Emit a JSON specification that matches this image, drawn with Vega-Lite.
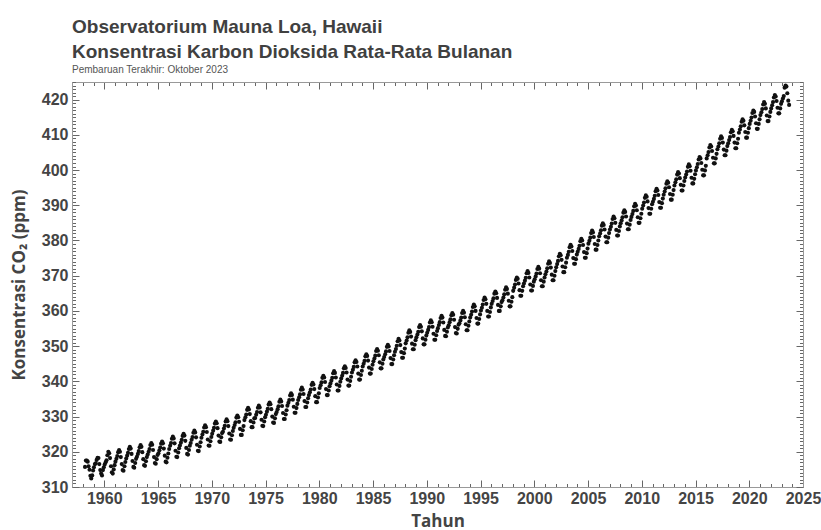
{
"$schema":"https://vega.github.io/schema/vega-lite/v6.json",
"width":731,"height":405,"autosize":"none",
"padding":{"left":72,"top":82,"right":18,"bottom":43},
"background":"white",
"title":{"text":["Observatorium Mauna Loa, Hawaii","Konsentrasi Karbon Dioksida Rata-Rata Bulanan"],"subtitle":"Pembaruan Terakhir: Oktober 2023","anchor":"start","frame":"group","font":"Liberation Sans","fontSize":19,"fontWeight":"bold","color":"#404040","lineHeight":25,"subtitleFont":"Liberation Sans","subtitleFontSize":10,"subtitleColor":"#555","subtitlePadding":3,"offset":7},
"config":{"view":{"stroke":"#999","strokeWidth":1},"axis":{"grid":false,"domainColor":"#999","tickColor":"#666","labelFont":"Liberation Sans","labelFontWeight":"bold","labelFontSize":16,"labelColor":"#444","titleFont":"Open Sans","titleFontWeight":"bold","titleFontSize":17,"titleColor":"#444","labelFlush":false,"labelOverlap":false}},
"data":{"values":[
{"t":1958.21,"c":315.7},{"t":1958.29,"c":317.5},{"t":1958.38,"c":317.5},{"t":1958.46,"c":317.2},{"t":1958.54,"c":315.9},{"t":1958.63,"c":314.9},{"t":1958.71,"c":313.2},{"t":1958.79,"c":312.4},{"t":1958.88,"c":313.3},{"t":1958.96,"c":314.7},
{"t":1959.04,"c":315.6},{"t":1959.13,"c":316.5},{"t":1959.21,"c":316.7},{"t":1959.29,"c":317.7},{"t":1959.38,"c":318.3},{"t":1959.46,"c":318.2},{"t":1959.54,"c":316.5},{"t":1959.63,"c":314.8},{"t":1959.71,"c":313.8},{"t":1959.79,"c":313.3},{"t":1959.88,"c":314.8},{"t":1959.96,"c":315.6},
{"t":1960.04,"c":316.4},{"t":1960.13,"c":317.0},{"t":1960.21,"c":317.6},{"t":1960.29,"c":319.0},{"t":1960.38,"c":320.0},{"t":1960.46,"c":319.6},{"t":1960.54,"c":318.2},{"t":1960.63,"c":315.9},{"t":1960.71,"c":314.2},{"t":1960.79,"c":313.8},{"t":1960.88,"c":315.0},{"t":1960.96,"c":316.2},
{"t":1961.04,"c":317.2},{"t":1961.13,"c":318.0},{"t":1961.21,"c":318.8},{"t":1961.29,"c":319.9},{"t":1961.38,"c":320.5},{"t":1961.46,"c":320.0},{"t":1961.54,"c":318.5},{"t":1961.63,"c":316.5},{"t":1961.71,"c":314.8},{"t":1961.79,"c":314.6},{"t":1961.88,"c":315.9},{"t":1961.96,"c":317.1},
{"t":1962.04,"c":318.1},{"t":1962.13,"c":318.9},{"t":1962.21,"c":319.7},{"t":1962.29,"c":320.8},{"t":1962.38,"c":321.4},{"t":1962.46,"c":320.9},{"t":1962.54,"c":319.4},{"t":1962.63,"c":317.4},{"t":1962.71,"c":315.7},{"t":1962.79,"c":315.5},{"t":1962.88,"c":316.8},{"t":1962.96,"c":318.0},
{"t":1963.04,"c":318.6},{"t":1963.13,"c":319.4},{"t":1963.21,"c":320.2},{"t":1963.29,"c":321.3},{"t":1963.38,"c":321.9},{"t":1963.46,"c":321.4},{"t":1963.54,"c":319.9},{"t":1963.63,"c":317.9},{"t":1963.71,"c":316.2},{"t":1963.79,"c":316.0},{"t":1963.88,"c":317.3},{"t":1963.96,"c":318.5},
{"t":1964.04,"c":319.2},{"t":1964.13,"c":320.0},{"t":1964.21,"c":320.8},{"t":1964.29,"c":321.9},{"t":1964.38,"c":322.5},{"t":1964.46,"c":322.0},{"t":1964.54,"c":320.5},{"t":1964.63,"c":318.5},{"t":1964.71,"c":316.8},{"t":1964.79,"c":316.6},{"t":1964.88,"c":317.9},{"t":1964.96,"c":319.1},
{"t":1965.04,"c":319.6},{"t":1965.13,"c":320.4},{"t":1965.21,"c":321.2},{"t":1965.29,"c":322.3},{"t":1965.38,"c":322.9},{"t":1965.46,"c":322.4},{"t":1965.54,"c":320.9},{"t":1965.63,"c":318.9},{"t":1965.71,"c":317.2},{"t":1965.79,"c":317.0},{"t":1965.88,"c":318.3},{"t":1965.96,"c":319.5},
{"t":1966.04,"c":320.8},{"t":1966.13,"c":321.7},{"t":1966.21,"c":322.5},{"t":1966.29,"c":323.7},{"t":1966.38,"c":324.3},{"t":1966.46,"c":323.8},{"t":1966.54,"c":322.4},{"t":1966.63,"c":320.3},{"t":1966.71,"c":318.6},{"t":1966.79,"c":318.5},{"t":1966.88,"c":319.8},{"t":1966.96,"c":321.0},
{"t":1967.04,"c":321.8},{"t":1967.13,"c":322.6},{"t":1967.21,"c":323.4},{"t":1967.29,"c":324.5},{"t":1967.38,"c":325.1},{"t":1967.46,"c":324.6},{"t":1967.54,"c":323.1},{"t":1967.63,"c":321.1},{"t":1967.71,"c":319.4},{"t":1967.79,"c":319.2},{"t":1967.88,"c":320.5},{"t":1967.96,"c":321.7},
{"t":1968.04,"c":322.5},{"t":1968.13,"c":323.4},{"t":1968.21,"c":324.2},{"t":1968.29,"c":325.4},{"t":1968.38,"c":326.0},{"t":1968.46,"c":325.5},{"t":1968.54,"c":324.1},{"t":1968.63,"c":322.0},{"t":1968.71,"c":320.3},{"t":1968.79,"c":320.2},{"t":1968.88,"c":321.5},{"t":1968.96,"c":322.7},
{"t":1969.04,"c":324.0},{"t":1969.13,"c":324.9},{"t":1969.21,"c":325.7},{"t":1969.29,"c":326.9},{"t":1969.38,"c":327.5},{"t":1969.46,"c":327.0},{"t":1969.54,"c":325.6},{"t":1969.63,"c":323.5},{"t":1969.71,"c":321.8},{"t":1969.79,"c":321.7},{"t":1969.88,"c":323.0},{"t":1969.96,"c":324.2},
{"t":1970.04,"c":325.1},{"t":1970.13,"c":326.0},{"t":1970.21,"c":326.8},{"t":1970.29,"c":328.0},{"t":1970.38,"c":328.6},{"t":1970.46,"c":328.1},{"t":1970.54,"c":326.7},{"t":1970.63,"c":324.6},{"t":1970.71,"c":322.9},{"t":1970.79,"c":322.8},{"t":1970.88,"c":324.1},{"t":1970.96,"c":325.3},
{"t":1971.04,"c":325.7},{"t":1971.13,"c":326.6},{"t":1971.21,"c":327.4},{"t":1971.29,"c":328.6},{"t":1971.38,"c":329.2},{"t":1971.46,"c":328.7},{"t":1971.54,"c":327.3},{"t":1971.63,"c":325.2},{"t":1971.71,"c":323.5},{"t":1971.79,"c":323.4},{"t":1971.88,"c":324.7},{"t":1971.96,"c":325.9},
{"t":1972.04,"c":326.8},{"t":1972.13,"c":327.6},{"t":1972.21,"c":328.4},{"t":1972.29,"c":329.7},{"t":1972.38,"c":330.3},{"t":1972.46,"c":329.8},{"t":1972.54,"c":328.5},{"t":1972.63,"c":326.5},{"t":1972.71,"c":324.8},{"t":1972.79,"c":324.8},{"t":1972.88,"c":326.1},{"t":1972.96,"c":327.3},
{"t":1973.04,"c":329.0},{"t":1973.13,"c":329.8},{"t":1973.21,"c":330.6},{"t":1973.29,"c":331.9},{"t":1973.38,"c":332.5},{"t":1973.46,"c":332.0},{"t":1973.54,"c":330.7},{"t":1973.63,"c":328.7},{"t":1973.71,"c":327.0},{"t":1973.79,"c":327.0},{"t":1973.88,"c":328.3},{"t":1973.96,"c":329.5},
{"t":1974.04,"c":329.6},{"t":1974.13,"c":330.5},{"t":1974.21,"c":331.3},{"t":1974.29,"c":332.5},{"t":1974.38,"c":333.1},{"t":1974.46,"c":332.6},{"t":1974.54,"c":331.2},{"t":1974.63,"c":329.1},{"t":1974.71,"c":327.4},{"t":1974.79,"c":327.3},{"t":1974.88,"c":328.6},{"t":1974.96,"c":329.8},
{"t":1975.04,"c":330.5},{"t":1975.13,"c":331.4},{"t":1975.21,"c":332.2},{"t":1975.29,"c":333.4},{"t":1975.38,"c":334.0},{"t":1975.46,"c":333.5},{"t":1975.54,"c":332.1},{"t":1975.63,"c":330.0},{"t":1975.71,"c":328.3},{"t":1975.79,"c":328.2},{"t":1975.88,"c":329.5},{"t":1975.96,"c":330.7},
{"t":1976.04,"c":331.3},{"t":1976.13,"c":332.1},{"t":1976.21,"c":332.9},{"t":1976.29,"c":334.2},{"t":1976.38,"c":334.8},{"t":1976.46,"c":334.3},{"t":1976.54,"c":333.0},{"t":1976.63,"c":331.0},{"t":1976.71,"c":329.3},{"t":1976.79,"c":329.3},{"t":1976.88,"c":330.6},{"t":1976.96,"c":331.8},
{"t":1977.04,"c":333.1},{"t":1977.13,"c":333.9},{"t":1977.21,"c":334.7},{"t":1977.29,"c":336.0},{"t":1977.38,"c":336.6},{"t":1977.46,"c":336.1},{"t":1977.54,"c":334.8},{"t":1977.63,"c":332.8},{"t":1977.71,"c":331.1},{"t":1977.79,"c":331.1},{"t":1977.88,"c":332.4},{"t":1977.96,"c":333.6},
{"t":1978.04,"c":334.7},{"t":1978.13,"c":335.5},{"t":1978.21,"c":336.3},{"t":1978.29,"c":337.6},{"t":1978.38,"c":338.2},{"t":1978.46,"c":337.7},{"t":1978.54,"c":336.4},{"t":1978.63,"c":334.4},{"t":1978.71,"c":332.7},{"t":1978.79,"c":332.7},{"t":1978.88,"c":334.0},{"t":1978.96,"c":335.2},
{"t":1979.04,"c":336.1},{"t":1979.13,"c":336.9},{"t":1979.21,"c":337.7},{"t":1979.29,"c":339.0},{"t":1979.38,"c":339.6},{"t":1979.46,"c":339.1},{"t":1979.54,"c":337.8},{"t":1979.63,"c":335.8},{"t":1979.71,"c":334.1},{"t":1979.79,"c":334.1},{"t":1979.88,"c":335.4},{"t":1979.96,"c":336.6},
{"t":1980.04,"c":338.1},{"t":1980.13,"c":338.9},{"t":1980.21,"c":339.7},{"t":1980.29,"c":341.0},{"t":1980.38,"c":341.6},{"t":1980.46,"c":341.1},{"t":1980.54,"c":339.8},{"t":1980.63,"c":337.8},{"t":1980.71,"c":336.1},{"t":1980.79,"c":336.1},{"t":1980.88,"c":337.4},{"t":1980.96,"c":338.6},
{"t":1981.04,"c":339.4},{"t":1981.13,"c":340.2},{"t":1981.21,"c":341.0},{"t":1981.29,"c":342.3},{"t":1981.38,"c":342.9},{"t":1981.46,"c":342.4},{"t":1981.54,"c":341.1},{"t":1981.63,"c":339.1},{"t":1981.71,"c":337.4},{"t":1981.79,"c":337.4},{"t":1981.88,"c":338.7},{"t":1981.96,"c":339.9},
{"t":1982.04,"c":340.8},{"t":1982.13,"c":341.6},{"t":1982.21,"c":342.4},{"t":1982.29,"c":343.7},{"t":1982.38,"c":344.3},{"t":1982.46,"c":343.8},{"t":1982.54,"c":342.5},{"t":1982.63,"c":340.5},{"t":1982.71,"c":338.8},{"t":1982.79,"c":338.8},{"t":1982.88,"c":340.1},{"t":1982.96,"c":341.3},
{"t":1983.04,"c":342.5},{"t":1983.13,"c":343.3},{"t":1983.21,"c":344.1},{"t":1983.29,"c":345.4},{"t":1983.38,"c":346.0},{"t":1983.46,"c":345.5},{"t":1983.54,"c":344.2},{"t":1983.63,"c":342.2},{"t":1983.71,"c":340.5},{"t":1983.79,"c":340.5},{"t":1983.88,"c":341.8},{"t":1983.96,"c":343.0},
{"t":1984.04,"c":344.2},{"t":1984.13,"c":345.0},{"t":1984.21,"c":345.8},{"t":1984.29,"c":347.1},{"t":1984.38,"c":347.7},{"t":1984.46,"c":347.2},{"t":1984.54,"c":345.9},{"t":1984.63,"c":343.9},{"t":1984.71,"c":342.2},{"t":1984.79,"c":342.2},{"t":1984.88,"c":343.5},{"t":1984.96,"c":344.7},
{"t":1985.04,"c":345.7},{"t":1985.13,"c":346.5},{"t":1985.21,"c":347.3},{"t":1985.29,"c":348.6},{"t":1985.38,"c":349.2},{"t":1985.46,"c":348.7},{"t":1985.54,"c":347.4},{"t":1985.63,"c":345.4},{"t":1985.71,"c":343.7},{"t":1985.79,"c":343.7},{"t":1985.88,"c":345.0},{"t":1985.96,"c":346.2},
{"t":1986.04,"c":346.9},{"t":1986.13,"c":347.7},{"t":1986.21,"c":348.5},{"t":1986.29,"c":349.8},{"t":1986.38,"c":350.4},{"t":1986.46,"c":349.9},{"t":1986.54,"c":348.6},{"t":1986.63,"c":346.6},{"t":1986.71,"c":344.9},{"t":1986.79,"c":344.9},{"t":1986.88,"c":346.2},{"t":1986.96,"c":347.4},
{"t":1987.04,"c":348.4},{"t":1987.13,"c":349.2},{"t":1987.21,"c":350.1},{"t":1987.29,"c":351.4},{"t":1987.38,"c":352.1},{"t":1987.46,"c":351.6},{"t":1987.54,"c":350.3},{"t":1987.63,"c":348.3},{"t":1987.71,"c":346.7},{"t":1987.79,"c":346.7},{"t":1987.88,"c":348.0},{"t":1987.96,"c":349.3},
{"t":1988.04,"c":350.8},{"t":1988.13,"c":351.6},{"t":1988.21,"c":352.5},{"t":1988.29,"c":353.8},{"t":1988.38,"c":354.5},{"t":1988.46,"c":354.0},{"t":1988.54,"c":352.7},{"t":1988.63,"c":350.7},{"t":1988.71,"c":349.1},{"t":1988.79,"c":349.1},{"t":1988.88,"c":350.4},{"t":1988.96,"c":351.7},
{"t":1989.04,"c":352.5},{"t":1989.13,"c":353.3},{"t":1989.21,"c":354.1},{"t":1989.29,"c":355.4},{"t":1989.38,"c":356.0},{"t":1989.46,"c":355.5},{"t":1989.54,"c":354.2},{"t":1989.63,"c":352.2},{"t":1989.71,"c":350.5},{"t":1989.79,"c":350.5},{"t":1989.88,"c":351.8},{"t":1989.96,"c":353.0},
{"t":1990.04,"c":353.8},{"t":1990.13,"c":354.6},{"t":1990.21,"c":355.4},{"t":1990.29,"c":356.7},{"t":1990.38,"c":357.3},{"t":1990.46,"c":356.8},{"t":1990.54,"c":355.5},{"t":1990.63,"c":353.5},{"t":1990.71,"c":351.8},{"t":1990.79,"c":351.8},{"t":1990.88,"c":353.1},{"t":1990.96,"c":354.3},
{"t":1991.04,"c":355.1},{"t":1991.13,"c":356.0},{"t":1991.21,"c":356.8},{"t":1991.29,"c":358.0},{"t":1991.38,"c":358.6},{"t":1991.46,"c":358.1},{"t":1991.54,"c":356.7},{"t":1991.63,"c":354.6},{"t":1991.71,"c":352.9},{"t":1991.79,"c":352.8},{"t":1991.88,"c":354.1},{"t":1991.96,"c":355.3},
{"t":1992.04,"c":355.9},{"t":1992.13,"c":356.8},{"t":1992.21,"c":357.6},{"t":1992.29,"c":358.8},{"t":1992.38,"c":359.4},{"t":1992.46,"c":358.9},{"t":1992.54,"c":357.5},{"t":1992.63,"c":355.4},{"t":1992.71,"c":353.7},{"t":1992.79,"c":353.6},{"t":1992.88,"c":354.9},{"t":1992.96,"c":356.1},
{"t":1993.04,"c":356.5},{"t":1993.13,"c":357.3},{"t":1993.21,"c":358.1},{"t":1993.29,"c":359.4},{"t":1993.38,"c":360.0},{"t":1993.46,"c":359.5},{"t":1993.54,"c":358.2},{"t":1993.63,"c":356.2},{"t":1993.71,"c":354.5},{"t":1993.79,"c":354.5},{"t":1993.88,"c":355.8},{"t":1993.96,"c":357.0},
{"t":1994.04,"c":358.1},{"t":1994.13,"c":358.9},{"t":1994.21,"c":359.8},{"t":1994.29,"c":361.1},{"t":1994.38,"c":361.8},{"t":1994.46,"c":361.3},{"t":1994.54,"c":360.0},{"t":1994.63,"c":358.0},{"t":1994.71,"c":356.4},{"t":1994.79,"c":356.4},{"t":1994.88,"c":357.7},{"t":1994.96,"c":359.0},
{"t":1995.04,"c":360.1},{"t":1995.13,"c":360.9},{"t":1995.21,"c":361.8},{"t":1995.29,"c":363.1},{"t":1995.38,"c":363.8},{"t":1995.46,"c":363.3},{"t":1995.54,"c":362.0},{"t":1995.63,"c":360.0},{"t":1995.71,"c":358.4},{"t":1995.79,"c":358.4},{"t":1995.88,"c":359.7},{"t":1995.96,"c":361.0},
{"t":1996.04,"c":362.0},{"t":1996.13,"c":362.8},{"t":1996.21,"c":363.6},{"t":1996.29,"c":364.9},{"t":1996.38,"c":365.5},{"t":1996.46,"c":365.0},{"t":1996.54,"c":363.7},{"t":1996.63,"c":361.7},{"t":1996.71,"c":360.0},{"t":1996.79,"c":360.0},{"t":1996.88,"c":361.3},{"t":1996.96,"c":362.5},
{"t":1997.04,"c":363.0},{"t":1997.13,"c":363.8},{"t":1997.21,"c":364.7},{"t":1997.29,"c":366.0},{"t":1997.38,"c":366.7},{"t":1997.46,"c":366.2},{"t":1997.54,"c":364.9},{"t":1997.63,"c":362.9},{"t":1997.71,"c":361.3},{"t":1997.79,"c":361.3},{"t":1997.88,"c":362.6},{"t":1997.96,"c":363.9},
{"t":1998.04,"c":365.7},{"t":1998.13,"c":366.6},{"t":1998.21,"c":367.5},{"t":1998.29,"c":368.8},{"t":1998.38,"c":369.5},{"t":1998.46,"c":369.1},{"t":1998.54,"c":367.8},{"t":1998.63,"c":365.9},{"t":1998.71,"c":364.3},{"t":1998.79,"c":364.3},{"t":1998.88,"c":365.7},{"t":1998.96,"c":367.0},
{"t":1999.04,"c":367.8},{"t":1999.13,"c":368.6},{"t":1999.21,"c":369.4},{"t":1999.29,"c":370.7},{"t":1999.38,"c":371.3},{"t":1999.46,"c":370.8},{"t":1999.54,"c":369.5},{"t":1999.63,"c":367.5},{"t":1999.71,"c":365.8},{"t":1999.79,"c":365.8},{"t":1999.88,"c":367.1},{"t":1999.96,"c":368.3},
{"t":2000.04,"c":369.0},{"t":2000.13,"c":369.8},{"t":2000.21,"c":370.6},{"t":2000.29,"c":371.9},{"t":2000.38,"c":372.5},{"t":2000.46,"c":372.0},{"t":2000.54,"c":370.7},{"t":2000.63,"c":368.7},{"t":2000.71,"c":367.0},{"t":2000.79,"c":367.0},{"t":2000.88,"c":368.3},{"t":2000.96,"c":369.5},
{"t":2001.04,"c":370.4},{"t":2001.13,"c":371.2},{"t":2001.21,"c":372.1},{"t":2001.29,"c":373.4},{"t":2001.38,"c":374.1},{"t":2001.46,"c":373.6},{"t":2001.54,"c":372.3},{"t":2001.63,"c":370.3},{"t":2001.71,"c":368.7},{"t":2001.79,"c":368.7},{"t":2001.88,"c":370.0},{"t":2001.96,"c":371.3},
{"t":2002.04,"c":372.4},{"t":2002.13,"c":373.3},{"t":2002.21,"c":374.2},{"t":2002.29,"c":375.5},{"t":2002.38,"c":376.2},{"t":2002.46,"c":375.8},{"t":2002.54,"c":374.5},{"t":2002.63,"c":372.6},{"t":2002.71,"c":371.0},{"t":2002.79,"c":371.0},{"t":2002.88,"c":372.4},{"t":2002.96,"c":373.7},
{"t":2003.04,"c":375.1},{"t":2003.13,"c":375.9},{"t":2003.21,"c":376.8},{"t":2003.29,"c":378.1},{"t":2003.38,"c":378.8},{"t":2003.46,"c":378.3},{"t":2003.54,"c":377.0},{"t":2003.63,"c":375.0},{"t":2003.71,"c":373.4},{"t":2003.79,"c":373.4},{"t":2003.88,"c":374.7},{"t":2003.96,"c":376.0},
{"t":2004.04,"c":376.8},{"t":2004.13,"c":377.6},{"t":2004.21,"c":378.5},{"t":2004.29,"c":379.8},{"t":2004.38,"c":380.5},{"t":2004.46,"c":380.0},{"t":2004.54,"c":378.7},{"t":2004.63,"c":376.7},{"t":2004.71,"c":375.1},{"t":2004.79,"c":375.1},{"t":2004.88,"c":376.4},{"t":2004.96,"c":377.7},
{"t":2005.04,"c":379.1},{"t":2005.13,"c":379.9},{"t":2005.21,"c":380.8},{"t":2005.29,"c":382.1},{"t":2005.38,"c":382.8},{"t":2005.46,"c":382.3},{"t":2005.54,"c":381.0},{"t":2005.63,"c":379.0},{"t":2005.71,"c":377.4},{"t":2005.79,"c":377.4},{"t":2005.88,"c":378.7},{"t":2005.96,"c":380.0},
{"t":2006.04,"c":381.2},{"t":2006.13,"c":382.0},{"t":2006.21,"c":382.9},{"t":2006.29,"c":384.2},{"t":2006.38,"c":384.9},{"t":2006.46,"c":384.4},{"t":2006.54,"c":383.1},{"t":2006.63,"c":381.1},{"t":2006.71,"c":379.5},{"t":2006.79,"c":379.5},{"t":2006.88,"c":380.8},{"t":2006.96,"c":382.1},
{"t":2007.04,"c":383.1},{"t":2007.13,"c":383.9},{"t":2007.21,"c":384.8},{"t":2007.29,"c":386.1},{"t":2007.38,"c":386.8},{"t":2007.46,"c":386.3},{"t":2007.54,"c":385.0},{"t":2007.63,"c":383.0},{"t":2007.71,"c":381.4},{"t":2007.79,"c":381.4},{"t":2007.88,"c":382.7},{"t":2007.96,"c":384.0},
{"t":2008.04,"c":384.9},{"t":2008.13,"c":385.7},{"t":2008.21,"c":386.6},{"t":2008.29,"c":387.9},{"t":2008.38,"c":388.6},{"t":2008.46,"c":388.1},{"t":2008.54,"c":386.8},{"t":2008.63,"c":384.8},{"t":2008.71,"c":383.2},{"t":2008.79,"c":383.2},{"t":2008.88,"c":384.5},{"t":2008.96,"c":385.8},
{"t":2009.04,"c":386.7},{"t":2009.13,"c":387.5},{"t":2009.21,"c":388.4},{"t":2009.29,"c":389.7},{"t":2009.38,"c":390.4},{"t":2009.46,"c":389.9},{"t":2009.54,"c":388.6},{"t":2009.63,"c":386.6},{"t":2009.71,"c":385.0},{"t":2009.79,"c":385.0},{"t":2009.88,"c":386.3},{"t":2009.96,"c":387.6},
{"t":2010.04,"c":389.0},{"t":2010.13,"c":389.9},{"t":2010.21,"c":390.8},{"t":2010.29,"c":392.1},{"t":2010.38,"c":392.8},{"t":2010.46,"c":392.4},{"t":2010.54,"c":391.1},{"t":2010.63,"c":389.2},{"t":2010.71,"c":387.6},{"t":2010.79,"c":387.6},{"t":2010.88,"c":389.0},{"t":2010.96,"c":390.3},
{"t":2011.04,"c":391.0},{"t":2011.13,"c":391.8},{"t":2011.21,"c":392.7},{"t":2011.29,"c":394.0},{"t":2011.38,"c":394.7},{"t":2011.46,"c":394.2},{"t":2011.54,"c":392.9},{"t":2011.63,"c":390.9},{"t":2011.71,"c":389.3},{"t":2011.79,"c":389.3},{"t":2011.88,"c":390.6},{"t":2011.96,"c":391.9},
{"t":2012.04,"c":393.0},{"t":2012.13,"c":393.9},{"t":2012.21,"c":394.8},{"t":2012.29,"c":396.1},{"t":2012.38,"c":396.8},{"t":2012.46,"c":396.4},{"t":2012.54,"c":395.1},{"t":2012.63,"c":393.2},{"t":2012.71,"c":391.6},{"t":2012.79,"c":391.6},{"t":2012.88,"c":393.0},{"t":2012.96,"c":394.3},
{"t":2013.04,"c":395.6},{"t":2013.13,"c":396.5},{"t":2013.21,"c":397.4},{"t":2013.29,"c":398.7},{"t":2013.38,"c":399.4},{"t":2013.46,"c":399.0},{"t":2013.54,"c":397.7},{"t":2013.63,"c":395.8},{"t":2013.71,"c":394.2},{"t":2013.79,"c":394.2},{"t":2013.88,"c":395.6},{"t":2013.96,"c":396.9},
{"t":2014.04,"c":397.9},{"t":2014.13,"c":398.7},{"t":2014.21,"c":399.6},{"t":2014.29,"c":400.9},{"t":2014.38,"c":401.6},{"t":2014.46,"c":401.1},{"t":2014.54,"c":399.8},{"t":2014.63,"c":397.8},{"t":2014.71,"c":396.2},{"t":2014.79,"c":396.2},{"t":2014.88,"c":397.5},{"t":2014.96,"c":398.8},
{"t":2015.04,"c":399.9},{"t":2015.13,"c":400.8},{"t":2015.21,"c":401.7},{"t":2015.29,"c":403.0},{"t":2015.38,"c":403.7},{"t":2015.46,"c":403.3},{"t":2015.54,"c":402.0},{"t":2015.63,"c":400.1},{"t":2015.71,"c":398.5},{"t":2015.79,"c":398.5},{"t":2015.88,"c":399.9},{"t":2015.96,"c":401.2},
{"t":2016.04,"c":403.3},{"t":2016.13,"c":404.2},{"t":2016.21,"c":405.1},{"t":2016.29,"c":406.4},{"t":2016.38,"c":407.1},{"t":2016.46,"c":406.7},{"t":2016.54,"c":405.4},{"t":2016.63,"c":403.5},{"t":2016.71,"c":401.9},{"t":2016.79,"c":401.9},{"t":2016.88,"c":403.3},{"t":2016.96,"c":404.6},
{"t":2017.04,"c":405.9},{"t":2017.13,"c":406.7},{"t":2017.21,"c":407.6},{"t":2017.29,"c":408.9},{"t":2017.38,"c":409.6},{"t":2017.46,"c":409.1},{"t":2017.54,"c":407.8},{"t":2017.63,"c":405.8},{"t":2017.71,"c":404.2},{"t":2017.79,"c":404.2},{"t":2017.88,"c":405.5},{"t":2017.96,"c":406.8},
{"t":2018.04,"c":407.6},{"t":2018.13,"c":408.5},{"t":2018.21,"c":409.4},{"t":2018.29,"c":410.7},{"t":2018.38,"c":411.4},{"t":2018.46,"c":411.0},{"t":2018.54,"c":409.7},{"t":2018.63,"c":407.8},{"t":2018.71,"c":406.2},{"t":2018.79,"c":406.2},{"t":2018.88,"c":407.6},{"t":2018.96,"c":408.9},
{"t":2019.04,"c":410.6},{"t":2019.13,"c":411.5},{"t":2019.21,"c":412.4},{"t":2019.29,"c":413.7},{"t":2019.38,"c":414.4},{"t":2019.46,"c":414.0},{"t":2019.54,"c":412.7},{"t":2019.63,"c":410.8},{"t":2019.71,"c":409.2},{"t":2019.79,"c":409.2},{"t":2019.88,"c":410.6},{"t":2019.96,"c":411.9},
{"t":2020.04,"c":413.1},{"t":2020.13,"c":414.0},{"t":2020.21,"c":414.9},{"t":2020.29,"c":416.2},{"t":2020.38,"c":416.9},{"t":2020.46,"c":416.5},{"t":2020.54,"c":415.2},{"t":2020.63,"c":413.3},{"t":2020.71,"c":411.7},{"t":2020.79,"c":411.7},{"t":2020.88,"c":413.1},{"t":2020.96,"c":414.4},
{"t":2021.04,"c":415.6},{"t":2021.13,"c":416.4},{"t":2021.21,"c":417.3},{"t":2021.29,"c":418.6},{"t":2021.38,"c":419.3},{"t":2021.46,"c":418.8},{"t":2021.54,"c":417.5},{"t":2021.63,"c":415.5},{"t":2021.71,"c":413.9},{"t":2021.79,"c":413.9},{"t":2021.88,"c":415.2},{"t":2021.96,"c":416.5},
{"t":2022.04,"c":417.5},{"t":2022.13,"c":418.4},{"t":2022.21,"c":419.3},{"t":2022.29,"c":420.6},{"t":2022.38,"c":421.3},{"t":2022.46,"c":420.9},{"t":2022.54,"c":419.6},{"t":2022.63,"c":417.7},{"t":2022.71,"c":416.1},{"t":2022.79,"c":416.1},{"t":2022.88,"c":417.5},{"t":2022.96,"c":418.8},
{"t":2023.04,"c":419.5},{"t":2023.13,"c":420.3},{"t":2023.21,"c":421.0},{"t":2023.29,"c":423.4},{"t":2023.38,"c":424.0},{"t":2023.46,"c":423.7},{"t":2023.54,"c":421.8},{"t":2023.63,"c":419.7},{"t":2023.71,"c":418.5}
]},
"layer":[
{"mark":{"type":"point","filled":true,"size":17,"color":"#111","opacity":1},
 "encoding":{
  "x":{"field":"t","type":"quantitative","scale":{"domain":[1957,2025],"nice":false,"zero":false},"axis":{"orient":"bottom","values":[1960,1965,1970,1975,1980,1985,1990,1995,2000,2005,2010,2015,2020,2025],"format":"d","tickSize":-7,"labelPadding":10,"title":"Tahun","titlePadding":7}},
  "y":{"field":"c","type":"quantitative","scale":{"domain":[310,425],"nice":false,"zero":false},"axis":{"orient":"left","values":[310,320,330,340,350,360,370,380,390,400,410,420],"tickSize":-7,"labelPadding":11,"title":"Konsentrasi CO₂ (ppm)","titlePadding":13}}}},
{"mark":{"type":"point","opacity":0},
 "encoding":{
  "x":{"field":"t","type":"quantitative","scale":{"domain":[1957,2025],"nice":false,"zero":false},"axis":{"orient":"bottom","tickCount":68,"labels":false,"tickSize":-3.5,"title":null}},
  "y":{"field":"c","type":"quantitative","scale":{"domain":[310,425],"nice":false,"zero":false},"axis":{"orient":"left","tickCount":115,"labels":false,"tickSize":-3.5,"title":null}}}},
{"mark":{"type":"point","opacity":0},
 "encoding":{
  "x":{"field":"t","type":"quantitative","scale":{"domain":[1957,2025],"nice":false,"zero":false},"axis":{"orient":"top","values":[1960,1965,1970,1975,1980,1985,1990,1995,2000,2005,2010,2015,2020,2025],"labels":false,"tickSize":-7,"title":null}},
  "y":{"field":"c","type":"quantitative","scale":{"domain":[310,425],"nice":false,"zero":false},"axis":{"orient":"right","values":[310,320,330,340,350,360,370,380,390,400,410,420],"labels":false,"tickSize":-7,"title":null}}}},
{"mark":{"type":"point","opacity":0},
 "encoding":{
  "x":{"field":"t","type":"quantitative","scale":{"domain":[1957,2025],"nice":false,"zero":false},"axis":{"orient":"top","tickCount":68,"labels":false,"tickSize":-3.5,"title":null}},
  "y":{"field":"c","type":"quantitative","scale":{"domain":[310,425],"nice":false,"zero":false},"axis":{"orient":"right","tickCount":115,"labels":false,"tickSize":-3.5,"title":null}}}}
],
"resolve":{"axis":{"x":"independent","y":"independent"}}
}
